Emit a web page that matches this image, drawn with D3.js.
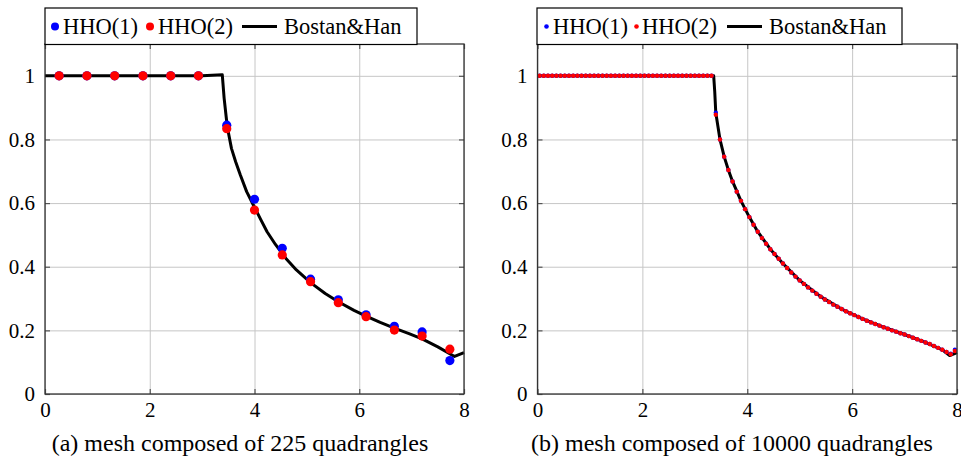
<!DOCTYPE html>
<html>
<head>
<meta charset="utf-8">
<script src="https://cdn.jsdelivr.net/npm/d3@7"></script>
</head>
<body style="margin:0;background:#fff">
<script>
// ! Data
// (a) 225 quadrangles: 15 cell centres
const coarseX = [0.27, 0.8, 1.33, 1.87, 2.4, 2.93, 3.47, 4.0, 4.53, 5.07, 5.6, 6.13, 6.67, 7.2, 7.73];
const coarseHho1 = [1, 1, 1, 1, 1, 1, 0.845, 0.612, 0.458, 0.361, 0.296, 0.249, 0.213, 0.195, 0.105];
const coarseHho2 = [1, 1, 1, 1, 1, 1, 0.834, 0.578, 0.437, 0.353, 0.287, 0.243, 0.201, 0.182, 0.141];

// (b) 10000 quadrangles: 100 cell centres
// prettier-ignore
const fineX = [0.04,0.12,0.2,0.28,0.36,0.44,0.52,0.6,0.68,0.76,0.84,0.92,1.0,1.08,1.16,1.24,1.32,1.4,1.48,1.56,
  1.64,1.72,1.8,1.88,1.96,2.04,2.12,2.2,2.28,2.36,2.44,2.52,2.6,2.68,2.76,2.84,2.92,3.0,3.08,3.16,
  3.24,3.32,3.4,3.48,3.56,3.64,3.72,3.8,3.88,3.96,4.04,4.12,4.2,4.28,4.36,4.44,4.52,4.6,4.68,4.76,
  4.84,4.92,5.0,5.08,5.16,5.24,5.32,5.4,5.48,5.56,5.64,5.72,5.8,5.88,5.96,6.04,6.12,6.2,6.28,6.36,
  6.44,6.52,6.6,6.68,6.76,6.84,6.92,7.0,7.08,7.16,7.24,7.32,7.4,7.48,7.56,7.64,7.72,7.8,7.88,7.96];
// prettier-ignore
const fineHho1 = [1,1,1,1,1,1,1,1,1,1,1,1,1,1,1,1,1,1,1,1,
  1,1,1,1,1,1,1,1,1,1,1,1,1,1,1,1,1,1,1,1,
  1,1,0.884,0.8,0.746,0.704,0.668,0.636,0.607,0.581,0.556,0.532,0.51,0.49,0.472,0.455,0.44,0.425,0.41,0.396,
  0.382,0.369,0.357,0.346,0.335,0.325,0.315,0.306,0.297,0.289,0.281,0.274,0.267,0.26,0.254,0.248,0.242,0.236,0.23,0.225,
  0.22,0.215,0.21,0.205,0.2,0.196,0.191,0.187,0.182,0.177,0.172,0.167,0.162,0.157,0.151,0.145,0.139,0.132,0.127,0.139];
// prettier-ignore
const fineHho2 = [1,1,1,1,1,1,1,1,1,1,1,1,1,1,1,1,1,1,1,1,
  1,1,1,1,1,1,1,1,1,1,1,1,1,1,1,1,1,1,1,1,
  1,1,0.878,0.8,0.746,0.704,0.668,0.636,0.607,0.581,0.556,0.532,0.51,0.49,0.472,0.455,0.44,0.425,0.41,0.396,
  0.382,0.369,0.357,0.346,0.335,0.325,0.315,0.306,0.297,0.289,0.281,0.274,0.267,0.26,0.254,0.248,0.242,0.236,0.23,0.225,
  0.22,0.215,0.21,0.205,0.2,0.196,0.191,0.187,0.182,0.177,0.172,0.167,0.162,0.157,0.151,0.145,0.139,0.132,0.125,0.135];

// Bostan&Han reference curve, as it shows in (a) and in (b)
const coarseBhX = [0, 3.0, 3.385, 3.42, 3.48, 3.56, 3.64, 3.73, 3.85, 3.99, 4.12, 4.24, 4.4, 4.6, 4.8, 5.07, 5.35, 5.6, 5.9, 6.13, 6.4, 6.67, 6.95, 7.2, 7.5, 7.82, 8.0];
const coarseBhY = [1, 1, 1.003, 0.93, 0.84, 0.772, 0.73, 0.688, 0.636, 0.59, 0.548, 0.51, 0.47, 0.426, 0.39, 0.35, 0.316, 0.29, 0.263, 0.245, 0.225, 0.207, 0.19, 0.173, 0.148, 0.118, 0.13];
const fineBhX = [0, 3.36, 3.38, 3.4, 3.48, 3.56, 3.64, 3.72, 3.88, 4.04, 4.2, 4.44, 4.68, 5.0, 5.4, 5.8, 6.2, 6.6, 7.0, 7.4, 7.72, 7.86, 8.0];
const fineBhY = [1, 1, 0.95, 0.884, 0.8, 0.746, 0.704, 0.668, 0.607, 0.556, 0.51, 0.455, 0.41, 0.357, 0.306, 0.267, 0.236, 0.21, 0.187, 0.162, 0.139, 0.121, 0.13];

const xTicks = [0, 2, 4, 6, 8];
const yTicks = [0, 0.2, 0.4, 0.6, 0.8, 1];
const legendNames = ["HHO(1)", "HHO(2)", "Bostan&Han"];
const captions = ["(a) mesh composed of 225 quadrangles", "(b) mesh composed of 10000 quadrangles"];

// ! SVG container
const width = 961;
const height = 457;
const FONT = "Liberation Serif";
const svg = d3.select("body").append("svg")
  .attr("width", width).attr("height", height)
  .attr("font-family", FONT);

const plotTop = 44;
const plotBottom = 394;
const gridColor = "#c6c6c6";

const panels = [
  {
    left: 45, right: 464, xs: coarseX, h1: coarseHho1, h2: coarseHho2, bx: coarseBhX, by: coarseBhY, r: 4.6, lr: 4,
    legend: { x0: 45, x1: 417, dot1: 55, t1: 63, dot2: 150, t2: 158, l0: 242, l1: 277, t3: 284 },
    caption: captions[0], cx: 240
  },
  {
    left: 537.5, right: 957, xs: fineX, h1: fineHho1, h2: fineHho2, bx: fineBhX, by: fineBhY, r: 2.2, lr: 2.3,
    legend: { x0: 537, x1: 902, dot1: 546.5, t1: 553, dot2: 636.5, t2: 642, l0: 727, l1: 762, t3: 769 },
    caption: captions[1], cx: 732
  }
];

const yScale = d3.scaleLinear().domain([0, 1.1]).range([plotBottom, plotTop]);

panels.forEach((p) => {
  const xScale = d3.scaleLinear().domain([0, 8]).range([p.left, p.right]);
  const g = svg.append("g");

  // ! Grid
  const grid = g.append("g");
  grid.append("g")
    .attr("transform", `translate(0, ${plotBottom})`)
    .call(d3.axisBottom(xScale).tickValues(xTicks).tickSize(-(plotBottom - plotTop)).tickFormat(""));
  grid.append("g")
    .attr("transform", `translate(${p.left}, 0)`)
    .call(d3.axisLeft(yScale).tickValues(yTicks).tickSize(-(p.right - p.left)).tickFormat(""));
  grid.selectAll(".domain").remove();
  grid.selectAll("line").attr("stroke", gridColor).attr("stroke-width", 1);

  // ! Axes with inward ticks
  const axes = g.append("g");
  const xAxis = axes.append("g")
    .attr("transform", `translate(0, ${plotBottom})`)
    .call(d3.axisBottom(xScale).tickValues(xTicks).tickSizeInner(-5).tickSizeOuter(0).tickPadding(8).tickFormat(d3.format("")));
  const yAxis = axes.append("g")
    .attr("transform", `translate(${p.left}, 0)`)
    .call(d3.axisLeft(yScale).tickValues(yTicks).tickSizeInner(-5).tickSizeOuter(0).tickPadding(10).tickFormat(d3.format("")));
  axes.append("g")
    .attr("transform", `translate(0, ${plotTop})`)
    .call(d3.axisTop(xScale).tickValues(xTicks).tickSizeInner(-5).tickSizeOuter(0).tickFormat(""));
  axes.append("g")
    .attr("transform", `translate(${p.right}, 0)`)
    .call(d3.axisRight(yScale).tickValues(yTicks).tickSizeInner(-5).tickSizeOuter(0).tickFormat(""));
  axes.selectAll(".domain").remove();
  axes.selectAll(".tick line").attr("stroke", "#555").attr("stroke-width", 1.2);
  xAxis.attr("font-size", 21);
  yAxis.attr("font-size", 21);

  // ! Reference curve, then HHO(1), then HHO(2)
  g.append("path")
    .datum(p.bx.map((x, i) => [x, p.by[i]]))
    .attr("fill", "none")
    .attr("stroke", "#000")
    .attr("stroke-width", 3)
    .attr("stroke-linejoin", "round")
    .attr("d", d3.line().x((d) => xScale(d[0])).y((d) => yScale(d[1])));

  g.append("g").selectAll("circle")
    .data(p.xs.map((x, i) => [x, p.h1[i]]))
    .enter().append("circle")
    .attr("cx", (d) => xScale(d[0]))
    .attr("cy", (d) => yScale(d[1]))
    .attr("r", p.r)
    .attr("fill", "#0000ff");
  g.append("g").selectAll("circle")
    .data(p.xs.map((x, i) => [x, p.h2[i]]))
    .enter().append("circle")
    .attr("cx", (d) => xScale(d[0]))
    .attr("cy", (d) => yScale(d[1]))
    .attr("r", p.r)
    .attr("fill", "#ff0000");

  // ! Frame
  g.append("rect")
    .attr("x", p.left).attr("y", plotTop)
    .attr("width", p.right - p.left).attr("height", plotBottom - plotTop)
    .attr("fill", "none").attr("stroke", "#333").attr("stroke-width", 1.3);

  // ! Legend
  const L = p.legend;
  const lg = svg.append("g");
  lg.append("rect")
    .attr("x", L.x0).attr("y", 8)
    .attr("width", L.x1 - L.x0).attr("height", 36.5)
    .attr("fill", "#fff").attr("stroke", "#000").attr("stroke-width", 1.2);
  lg.append("circle").attr("cx", L.dot1).attr("cy", 26.5).attr("r", p.lr).attr("fill", "#0000ff");
  lg.append("circle").attr("cx", L.dot2).attr("cy", 26.5).attr("r", p.lr).attr("fill", "#ff0000");
  lg.append("line").attr("x1", L.l0).attr("x2", L.l1).attr("y1", 26.5).attr("y2", 26.5)
    .attr("stroke", "#000").attr("stroke-width", 3);
  [L.t1, L.t2, L.t3].forEach((tx, i) => {
    lg.append("text").attr("x", tx).attr("y", 33.5).attr("font-size", 22.5).text(legendNames[i]);
  });

  // ! Caption
  svg.append("text")
    .attr("x", p.cx).attr("y", 451)
    .attr("text-anchor", "middle")
    .attr("font-size", 24)
    .text(p.caption);
});

// serif everywhere, replacing the axis default
svg.selectAll("g").filter(function () { return this.hasAttribute("font-family"); }).attr("font-family", FONT);
svg.selectAll("text").attr("font-family", FONT).attr("fill", "#000");
</script>
</body>
</html>
